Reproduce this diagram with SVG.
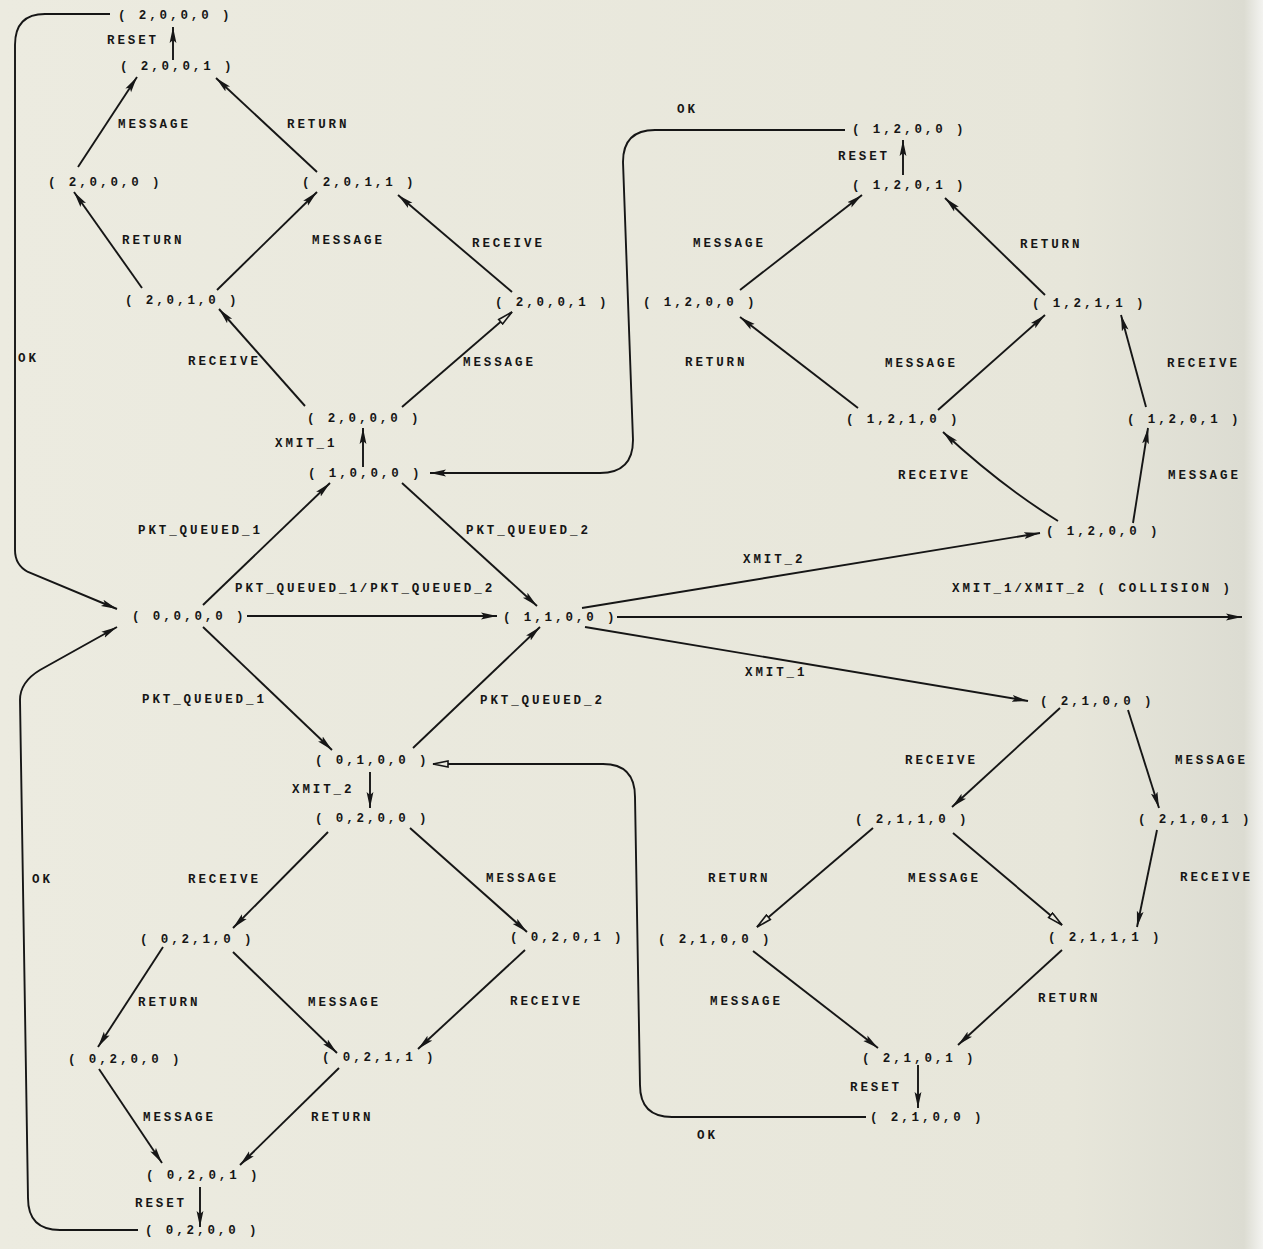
<svg xmlns="http://www.w3.org/2000/svg" width="1263" height="1249" viewBox="0 0 1263 1249">
<defs>
<linearGradient id="bg" x1="0" y1="0" x2="1" y2="0">
<stop offset="0" stop-color="#ecebe0"/>
<stop offset="0.85" stop-color="#e7e6da"/>
<stop offset="0.985" stop-color="#dcdcd2"/>
<stop offset="1" stop-color="#f3f3f0"/>
</linearGradient>
<marker id="ah" markerUnits="userSpaceOnUse" markerWidth="18" markerHeight="10" refX="16" refY="4" orient="auto">
<path d="M0,0.6 L16,4 L0,7.4 L3,4 z" fill="#161616"/>
</marker>
<marker id="ao" markerUnits="userSpaceOnUse" markerWidth="18" markerHeight="10" refX="16" refY="4" orient="auto">
<path d="M1,1 L16,4 L1,7 z" fill="#ecebe0" stroke="#161616" stroke-width="1.6"/>
</marker>
<style>
.t { font-family: "Liberation Mono", "DejaVu Sans Mono", monospace; font-size: 12.5px; font-weight: bold; letter-spacing: 2.9px; fill: #161616; }
#connectors path { stroke: #161616; stroke-width: 1.9; fill: none; marker-end: url(#ah); }
#connectors path.o { marker-end: url(#ao); }
</style>
</defs>
<rect x="0" y="0" width="1263" height="1249" fill="url(#bg)"/>

<g id="connectors">
<path d="M173,60 L173,27"/>
<path d="M78,167 L137,77"/>
<path d="M317,172 L216,78"/>
<path d="M142,288 L74,192"/>
<path d="M217,290 L317,192"/>
<path d="M512,292 L398,195"/>
<path d="M305,406 L219,309"/>
<path class="o" d="M402,407 L512,312"/>
<path d="M363,467 L363,428"/>
<path d="M845,130 L655,130 Q623,130 623,162 L633,440 Q633,473 600,473 L430,473"/>
<path d="M203,605 L330,483"/>
<path d="M402,483 L537,606"/>
<path d="M247,616 L497,616"/>
<path d="M203,627 L332,750"/>
<path d="M413,748 L540,627"/>
<path d="M582,608 L1040,533"/>
<path d="M617,617 L1242,617"/>
<path d="M585,627 L1028,701"/>
<path d="M110,14 L45,14 Q15,14 15,45 L15,550 Q15,565 28,572 L117,609"/>
<path d="M138,1230 L60,1230 Q28,1230 28,1198 L20,700 Q20,682 40,670 L117,627"/>
<path d="M370,772 L370,808"/>
<path class="o" d="M866,1117 L672,1117 Q640,1117 640,1085 L635,797 Q635,764 603,764 L433,764"/>
<path d="M328,832 L233,928"/>
<path d="M410,828 L527,932"/>
<path d="M163,947 L98,1047"/>
<path d="M233,952 L337,1053"/>
<path d="M525,950 L418,1049"/>
<path d="M99,1069 L162,1163"/>
<path d="M339,1068 L240,1165"/>
<path d="M200,1187 L200,1227"/>
<path d="M903,175 L903,140"/>
<path d="M740,290 L862,195"/>
<path d="M1045,295 L945,198"/>
<path d="M858,408 L740,317"/>
<path d="M938,410 L1045,315"/>
<path d="M1146,407 L1121,315"/>
<path d="M1058,521 Q1000,485 943,432"/>
<path d="M1133,523 L1148,428"/>
<path d="M1060,708 L952,807"/>
<path d="M1128,710 L1159,808"/>
<path class="o" d="M873,828 L757,927"/>
<path class="o" d="M953,833 L1062,925"/>
<path d="M1157,830 L1137,927"/>
<path d="M753,951 L878,1048"/>
<path d="M1062,950 L958,1045"/>
<path d="M918,1065 L918,1108"/>
</g>

<g id="n1"><text class="t" x="118" y="19">( 2,0,0,0 )</text></g>
<g id="n2"><text class="t" x="120" y="70">( 2,0,0,1 )</text></g>
<g id="n3"><text class="t" x="48" y="186">( 2,0,0,0 )</text></g>
<g id="n4"><text class="t" x="302" y="186">( 2,0,1,1 )</text></g>
<g id="n5"><text class="t" x="125" y="304">( 2,0,1,0 )</text></g>
<g id="n6"><text class="t" x="495" y="306">( 2,0,0,1 )</text></g>
<g id="n7"><text class="t" x="307" y="422">( 2,0,0,0 )</text></g>
<g id="n8"><text class="t" x="308" y="477">( 1,0,0,0 )</text></g>
<g id="n9"><text class="t" x="132" y="620">( 0,0,0,0 )</text></g>
<g id="n10"><text class="t" x="503" y="621">( 1,1,0,0 )</text></g>
<g id="n11"><text class="t" x="315" y="764">( 0,1,0,0 )</text></g>
<g id="n12"><text class="t" x="315" y="822">( 0,2,0,0 )</text></g>
<g id="n13"><text class="t" x="140" y="943">( 0,2,1,0 )</text></g>
<g id="n14"><text class="t" x="510" y="941">( 0,2,0,1 )</text></g>
<g id="n15"><text class="t" x="68" y="1063">( 0,2,0,0 )</text></g>
<g id="n16"><text class="t" x="322" y="1061">( 0,2,1,1 )</text></g>
<g id="n17"><text class="t" x="146" y="1179">( 0,2,0,1 )</text></g>
<g id="n18"><text class="t" x="145" y="1234">( 0,2,0,0 )</text></g>
<g id="n19"><text class="t" x="852" y="133">( 1,2,0,0 )</text></g>
<g id="n20"><text class="t" x="852" y="189">( 1,2,0,1 )</text></g>
<g id="n21"><text class="t" x="643" y="306">( 1,2,0,0 )</text></g>
<g id="n22"><text class="t" x="1032" y="307">( 1,2,1,1 )</text></g>
<g id="n23"><text class="t" x="846" y="423">( 1,2,1,0 )</text></g>
<g id="n24"><text class="t" x="1127" y="423">( 1,2,0,1 )</text></g>
<g id="n25"><text class="t" x="1046" y="535">( 1,2,0,0 )</text></g>
<g id="n26"><text class="t" x="1040" y="705">( 2,1,0,0 )</text></g>
<g id="n27"><text class="t" x="855" y="823">( 2,1,1,0 )</text></g>
<g id="n28"><text class="t" x="1138" y="823">( 2,1,0,1 )</text></g>
<g id="n29"><text class="t" x="658" y="943">( 2,1,0,0 )</text></g>
<g id="n30"><text class="t" x="1048" y="941">( 2,1,1,1 )</text></g>
<g id="n31"><text class="t" x="862" y="1062">( 2,1,0,1 )</text></g>
<g id="n32"><text class="t" x="870" y="1121">( 2,1,0,0 )</text></g>

<g id="labels">
<text class="t" x="107" y="44">RESET</text>
<text class="t" x="118" y="128">MESSAGE</text>
<text class="t" x="287" y="128">RETURN</text>
<text class="t" x="122" y="244">RETURN</text>
<text class="t" x="312" y="244">MESSAGE</text>
<text class="t" x="472" y="247">RECEIVE</text>
<text class="t" x="18" y="362">OK</text>
<text class="t" x="188" y="365">RECEIVE</text>
<text class="t" x="463" y="366">MESSAGE</text>
<text class="t" x="275" y="447">XMIT_1</text>
<text class="t" x="138" y="534">PKT_QUEUED_1</text>
<text class="t" x="466" y="534">PKT_QUEUED_2</text>
<text class="t" x="235" y="592">PKT_QUEUED_1/PKT_QUEUED_2</text>
<text class="t" x="743" y="563">XMIT_2</text>
<text class="t" x="952" y="592">XMIT_1/XMIT_2 ( COLLISION )</text>
<text class="t" x="745" y="676">XMIT_1</text>
<text class="t" x="142" y="703">PKT_QUEUED_1</text>
<text class="t" x="480" y="704">PKT_QUEUED_2</text>
<text class="t" x="292" y="793">XMIT_2</text>
<text class="t" x="905" y="764">RECEIVE</text>
<text class="t" x="1175" y="764">MESSAGE</text>
<text class="t" x="32" y="883">OK</text>
<text class="t" x="188" y="883">RECEIVE</text>
<text class="t" x="486" y="882">MESSAGE</text>
<text class="t" x="708" y="882">RETURN</text>
<text class="t" x="908" y="882">MESSAGE</text>
<text class="t" x="1180" y="881">RECEIVE</text>
<text class="t" x="138" y="1006">RETURN</text>
<text class="t" x="308" y="1006">MESSAGE</text>
<text class="t" x="510" y="1005">RECEIVE</text>
<text class="t" x="710" y="1005">MESSAGE</text>
<text class="t" x="1038" y="1002">RETURN</text>
<text class="t" x="143" y="1121">MESSAGE</text>
<text class="t" x="311" y="1121">RETURN</text>
<text class="t" x="850" y="1091">RESET</text>
<text class="t" x="697" y="1139">OK</text>
<text class="t" x="135" y="1207">RESET</text>
<text class="t" x="677" y="113">OK</text>
<text class="t" x="838" y="160">RESET</text>
<text class="t" x="693" y="247">MESSAGE</text>
<text class="t" x="1020" y="248">RETURN</text>
<text class="t" x="685" y="366">RETURN</text>
<text class="t" x="885" y="367">MESSAGE</text>
<text class="t" x="1167" y="367">RECEIVE</text>
<text class="t" x="898" y="479">RECEIVE</text>
<text class="t" x="1168" y="479">MESSAGE</text>
</g>
</svg>
